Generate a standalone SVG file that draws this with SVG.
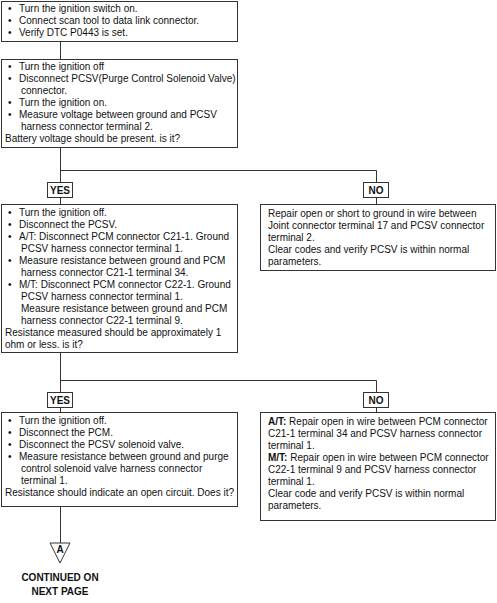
<svg xmlns="http://www.w3.org/2000/svg" width="497" height="603" viewBox="0 0 497 603">
<style>
.box{fill:#fff;stroke:#333;stroke-width:1}
.lbl{fill:#fff;stroke:#333;stroke-width:1}
.ln{fill:none;stroke:#333;stroke-width:1}
text{font-family:"Liberation Sans",Arial,sans-serif;font-size:10px;fill:#111}
.b{font-weight:bold}
.yn{font-weight:bold;font-size:10px;text-anchor:middle}
.cont{font-weight:bold;font-size:10px;text-anchor:middle}
</style>
<rect width="497" height="603" fill="#fff"/>
<g id="connectors">
<path class="ln" d="M60.5 42V59"/>
<path class="ln" d="M60.5 147V204M60.5 170.5H376.5V204"/>
<path class="ln" d="M60.5 352V412M60.5 380.5H376.5V412"/>
<path class="ln" d="M60.5 506V543"/>
</g>
<g id="n1">
<rect class="box" x="1.5" y="1.5" width="236" height="40"/>
<text x="8" y="12">•</text><text x="19" y="12">Turn the ignition switch on.</text>
<text x="8" y="24">•</text><text x="19" y="24">Connect scan tool to data link connector.</text>
<text x="8" y="36">•</text><text x="19" y="36">Verify DTC P0443 is set.</text>
</g>
<g id="n2">
<rect class="box" x="1.5" y="59.5" width="236" height="88"/>
<text x="8" y="70">•</text><text x="19" y="70">Turn the ignition off</text>
<text x="8" y="82">•</text><text x="19" y="82">Disconnect PCSV(Purge Control Solenoid Valve)</text>
<text x="21" y="94">connector.</text>
<text x="8" y="106">•</text><text x="19" y="106">Turn the ignition on.</text>
<text x="8" y="118">•</text><text x="19" y="118">Measure voltage between ground and PCSV</text>
<text x="21" y="130">harness connector terminal 2.</text>
<text x="5" y="142">Battery voltage should be present. is it?</text>
</g>
<g id="yes1">
<rect class="lbl" x="47.5" y="182.5" width="25" height="15"/>
<text class="yn" x="60" y="194">YES</text>
</g>
<g id="no1">
<rect class="lbl" x="363.5" y="182.5" width="25" height="15"/>
<text class="yn" x="376" y="194">NO</text>
</g>
<g id="n3">
<rect class="box" x="1.5" y="204.5" width="236" height="148"/>
<text x="8" y="216">•</text><text x="19" y="216">Turn the ignition off.</text>
<text x="8" y="228">•</text><text x="19" y="228">Disconnect the PCSV.</text>
<text x="8" y="240">•</text><text x="19" y="240">A/T: Disconnect PCM connector C21-1. Ground</text>
<text x="21" y="252">PCSV harness connector terminal 1.</text>
<text x="8" y="264">•</text><text x="19" y="264">Measure resistance between ground and PCM</text>
<text x="21" y="276">harness connector C21-1 terminal 34.</text>
<text x="8" y="288">•</text><text x="19" y="288">M/T: Disconnect PCM connector C22-1. Ground</text>
<text x="21" y="300">PCSV harness connector terminal 1.</text>
<text x="21" y="312">Measure resistance between ground and PCM</text>
<text x="21" y="324">harness connector C22-1 terminal 9.</text>
<text x="5" y="336">Resistance measured should be approximately 1</text>
<text x="5" y="348">ohm or less. is it?</text>
</g>
<g id="n4">
<rect class="box" x="260.5" y="204.5" width="235" height="66"/>
<text x="268" y="217">Repair open or short to ground in wire between</text>
<text x="268" y="229">Joint connector terminal 17 and PCSV connector</text>
<text x="268" y="241">terminal 2.</text>
<text x="268" y="253">Clear codes and verify PCSV is within normal</text>
<text x="268" y="265">parameters.</text>
</g>
<g id="yes2">
<rect class="lbl" x="47.5" y="392.5" width="25" height="15"/>
<text class="yn" x="60" y="404">YES</text>
</g>
<g id="no2">
<rect class="lbl" x="363.5" y="392.5" width="25" height="15"/>
<text class="yn" x="376" y="404">NO</text>
</g>
<g id="n5">
<rect class="box" x="1.5" y="412.5" width="236" height="94"/>
<text x="8" y="424">•</text><text x="19" y="424">Turn the ignition off.</text>
<text x="8" y="436">•</text><text x="19" y="436">Disconnect the PCM.</text>
<text x="8" y="448">•</text><text x="19" y="448">Disconnect the PCSV solenoid valve.</text>
<text x="8" y="460">•</text><text x="19" y="460">Measure resistance between ground and purge</text>
<text x="21" y="472">control solenoid valve harness connector</text>
<text x="21" y="484">terminal 1.</text>
<text x="5" y="496">Resistance should indicate an open circuit. Does it?</text>
</g>
<g id="n6">
<rect class="box" x="260.5" y="412.5" width="235" height="108"/>
<text x="268" y="425"><tspan class="b">A/T:</tspan> Repair open in wire between PCM connector</text>
<text x="268" y="437">C21-1 terminal 34 and PCSV harness connector</text>
<text x="268" y="449">terminal 1.</text>
<text x="268" y="461"><tspan class="b">M/T:</tspan> Repair open in wire between PCM connector</text>
<text x="268" y="473">C22-1 terminal 9 and PCSV harness connector</text>
<text x="268" y="485">terminal 1.</text>
<text x="268" y="497">Clear code and verify PCSV is within normal</text>
<text x="268" y="509">parameters.</text>
</g>
<g id="cont">
<polygon points="50,543 70,543 60,563" fill="#fff" stroke="#333" stroke-width="1"/>
<text class="cont" x="60" y="553" font-size="9">A</text>
<text class="cont" x="60" y="581">CONTINUED  ON</text>
<text class="cont" x="60" y="595">NEXT  PAGE</text>
</g>
</svg>
